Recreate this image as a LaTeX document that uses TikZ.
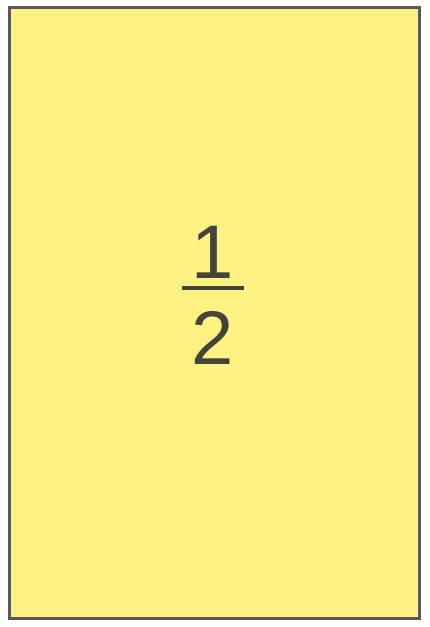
\documentclass[tikz,border=0pt]{standalone}
\usepackage{fontspec}
\setmainfont{Liberation Sans}
\usepackage{tikz}
\usepackage{xcolor}
\usetikzlibrary{positioning, calc}
\definecolor{cardFill}  {HTML}{FFF182}
\definecolor{cardEdge}  {HTML}{595959}
\definecolor{cardInk}   {HTML}{45443A}

\begin{document}
\begin{tikzpicture}[x=1pt, y=1pt]
        \useasboundingbox (0, 0) rectangle (429, 627);
        \draw[fill=cardFill, draw=cardEdge, line width=3pt] (9.5, 8.5) rectangle (419.5, 619.5);
        \node[inner sep=0pt, text=cardInk, font=\fontsize{76}{76}\selectfont]
          (num) at (213, 374.5) {1};
        \node[inner sep=0pt, text=cardInk, font=\fontsize{76}{76}\selectfont]
          (den) at (213, 289.5) {2};
        \draw[draw=cardInk, line width=4pt] (182, 339) -- (244, 339);
      \end{tikzpicture}
\end{document}
